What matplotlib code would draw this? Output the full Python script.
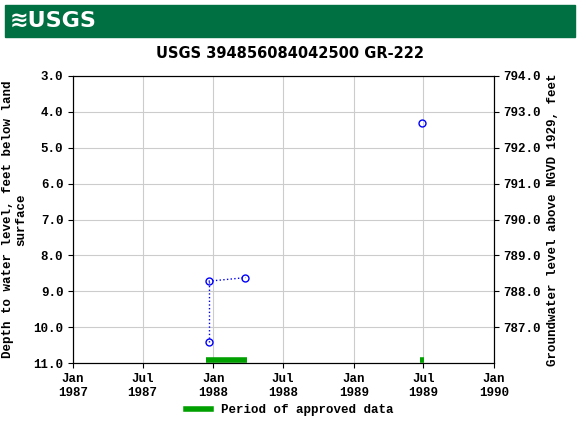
import matplotlib
matplotlib.use("Agg")
import matplotlib.pyplot as plt
import matplotlib.dates as mdates
from matplotlib.patches import Rectangle
from datetime import datetime

# measurements
dates_a = [datetime(1987, 12, 20), datetime(1987, 12, 20), datetime(1988, 3, 25)]
depth_a = [10.42, 8.72, 8.62]
dates_b = [datetime(1989, 6, 28)]
depth_b = [4.3]
datum = 797.0

approved = [(datetime(1987, 12, 12), datetime(1988, 3, 30)),
            (datetime(1989, 6, 23), datetime(1989, 7, 3))]

tick_dates = [datetime(1987, 1, 1), datetime(1987, 7, 1), datetime(1988, 1, 1),
              datetime(1988, 7, 1), datetime(1989, 1, 1), datetime(1989, 7, 1),
              datetime(1990, 1, 1)]
tick_labels = ["Jan\n1987", "Jul\n1987", "Jan\n1988", "Jul\n1988",
               "Jan\n1989", "Jul\n1989", "Jan\n1990"]

mono = {"family": "Liberation Mono", "weight": "bold", "size": 9}

fig = plt.figure(figsize=(5.8, 4.3), dpi=100)
fig.patches.append(Rectangle((5 / 580, 1 - 37 / 430), 570 / 580, 32 / 430,
                             transform=fig.transFigure, color="#006f41"))
fig.text(10 / 580, 1 - 21 / 430, "≋USGS", color="white", fontsize=16,
         fontweight="bold", va="center")
fig.text(0.5, 1 - 53 / 430, "USGS 394856084042500 GR-222", ha="center",
         va="center", fontsize=10.5, fontweight="bold")

ax = fig.add_axes([73 / 580, 1 - 363 / 430, 421 / 580, 287 / 430])
ax.plot(dates_a[:2], depth_a[:2], color="blue", ls=":", lw=1)
ax.plot(dates_a[1:], depth_a[1:], color="blue", ls=":", lw=1)
ax.plot(dates_a, depth_a, "o", mfc="none", mec="blue", ms=5)
ax.plot(dates_b, depth_b, "o", mfc="none", mec="blue", ms=5)
for s, e in approved:
    ax.plot([s, e], [10.93, 10.93], color="#00a000", lw=4, solid_capstyle="butt")

ax.set_xlim(datetime(1987, 1, 1), datetime(1990, 1, 1))
ax.set_ylim(11.0, 3.0)
ax.set_xticks([mdates.date2num(d) for d in tick_dates])
ax.set_xticklabels(tick_labels, fontdict=mono)
ax.set_yticks([3, 4, 5, 6, 7, 8, 9, 10, 11])
ax.set_yticklabels([f"{v:.1f}" for v in range(3, 12)], fontdict=mono)
ax.grid(color="#cccccc", lw=0.8)
ax.set_ylabel("Depth to water level, feet below land\nsurface", fontdict=mono)

ax2 = ax.twinx()
ax2.set_ylim(datum - 11.0, datum - 3.0)
ax2.set_yticks(range(787, 795))
ax2.set_yticklabels([f"{v:.1f}" for v in range(787, 795)], fontdict=mono)
ax2.set_ylabel("Groundwater level above NGVD 1929, feet", fontdict=mono)

lh = plt.Line2D([], [], color="#00a000", lw=4)
fig.legend([lh], ["Period of approved data"], loc="center",
           bbox_to_anchor=(0.5, 1 - 410 / 430), frameon=False, prop=mono)

fig.savefig("out.png")
